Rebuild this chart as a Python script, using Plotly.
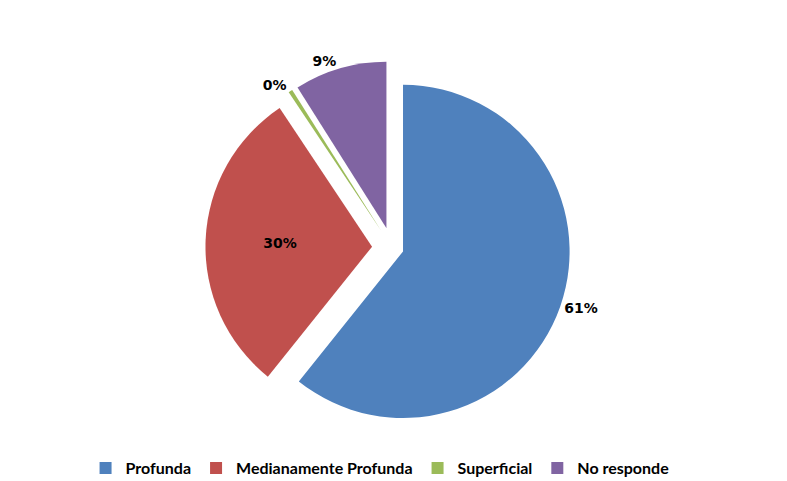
import plotly.graph_objects as go

labels = ["Profunda", "Medianamente Profunda", "Superficial", "No responde"]
values = [61, 30, 0.4, 9]
colors = ["#4F81BD", "#C0504D", "#9BBB59", "#8064A2"]
text_positions = ["outside", "inside", "outside", "outside"]
pulls = [0.07, 0.12, 0.12, 0.12]

fig = go.Figure(go.Pie(
    labels=labels,
    values=values,
    sort=False,
    direction="clockwise",
    rotation=0,
    pull=pulls,
    marker=dict(colors=colors, line=dict(color="#ffffff", width=0)),
    texttemplate="%{percent:.0%}",
    textposition=text_positions,
    textfont=dict(family="DejaVu Sans", size=14, color="#000000", weight="bold"),
    insidetextorientation="horizontal",
    outsidetextfont=dict(family="DejaVu Sans", size=14, color="#000000", weight="bold"),
    domain=dict(x=[0.05, 0.93], y=[0.12, 1.0]),
    hoverinfo="label+percent",
))

fig.update_layout(
    width=787,
    height=481,
    margin=dict(l=10, r=10, t=12, b=4),
    paper_bgcolor="#ffffff",
    plot_bgcolor="#ffffff",
    showlegend=True,
    legend=dict(
        orientation="h",
        x=0.47, xanchor="center",
        y=0.0, yanchor="bottom",
        font=dict(family="Lato", size=16, color="#000000", weight="bold"),
        itemwidth=30,
        traceorder="normal",
    ),
)

fig.write_html("out.html")
